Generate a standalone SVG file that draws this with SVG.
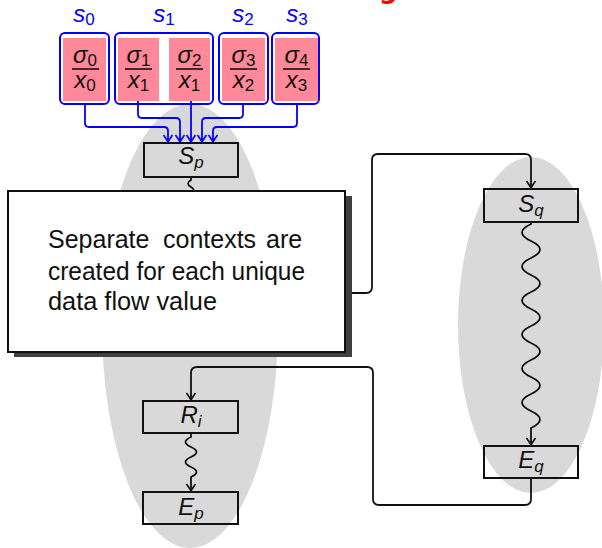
<svg xmlns="http://www.w3.org/2000/svg" width="602" height="548" viewBox="0 0 602 548">
<style>
.blob{fill:#d9d9d9}
.grp{fill:none;stroke:#0000ff;stroke-width:2}
.pink{fill:#ff8899}
.lbl{font-family:"Liberation Sans","DejaVu Sans",sans-serif;font-style:italic;fill:#0000ff;font-size:24px}
.math{font-family:"Liberation Sans","DejaVu Sans",sans-serif;font-style:italic;fill:#111;font-size:24px}
.sub{font-style:normal;font-size:17px}
.isub{font-size:17px}
.frac{stroke:#111;stroke-width:1.6}
.box{fill:none;stroke:#111;stroke-width:2}
.conn{fill:none;stroke:#111;stroke-width:1.8}
.bconn{fill:none;stroke:#0000ff;stroke-width:1.8}
.body{font-family:"Liberation Sans","DejaVu Sans",sans-serif;font-size:25px;fill:#111}
</style>
<defs>
<marker id="ah" viewBox="-9 -6 10 12" markerWidth="10" markerHeight="12" refX="0" refY="0" orient="auto" markerUnits="userSpaceOnUse">
<path d="M-7,-4.5 Q-2,-1 0,0 Q-2,1 -7,4.5" fill="none" stroke="#111" stroke-width="1.6"/>
</marker>
<marker id="bh" viewBox="-9 -6 10 12" markerWidth="10" markerHeight="12" refX="0" refY="0" orient="auto" markerUnits="userSpaceOnUse">
<path d="M-7,-4.5 Q-2,-1 0,0 Q-2,1 -7,4.5" fill="none" stroke="#0000ff" stroke-width="1.6"/>
</marker>
</defs>
<rect width="602" height="548" fill="#fff"/>
<text x="379" y="-2" font-family="DejaVu Sans,sans-serif" font-weight="bold" font-size="26" fill="#ff0000">g</text>
<g id="regions">
<ellipse class="blob" cx="190" cy="326" rx="88" ry="222"/>
<ellipse class="blob" cx="531" cy="325" rx="73" ry="168"/>
</g>
<g id="s0">
<text class="lbl" x="84" y="22" text-anchor="middle">s<tspan class="sub" dy="3">0</tspan></text>
<rect class="grp" x="60" y="33" width="49" height="71" rx="5"/>
<rect class="pink" x="63" y="38" width="43" height="63"/>
<text class="math" x="85" y="63" text-anchor="middle">σ<tspan class="sub" dy="3">0</tspan></text>
<line class="frac" x1="72" y1="69" x2="99" y2="69"/>
<text class="math" x="85" y="88" text-anchor="middle">x<tspan class="sub" dy="3">0</tspan></text>
</g>
<g id="s1">
<text class="lbl" x="164" y="22" text-anchor="middle">s<tspan class="sub" dy="3">1</tspan></text>
<rect class="grp" x="115" y="33" width="98" height="71" rx="5"/>
<rect class="pink" x="118" y="38" width="41" height="63"/>
<rect class="pink" x="169" y="38" width="41" height="63"/>
<text class="math" x="138.5" y="63" text-anchor="middle">σ<tspan class="sub" dy="3">1</tspan></text>
<line class="frac" x1="125" y1="69" x2="152" y2="69"/>
<text class="math" x="138.5" y="88" text-anchor="middle">x<tspan class="sub" dy="3">1</tspan></text>
<text class="math" x="189.5" y="63" text-anchor="middle">σ<tspan class="sub" dy="3">2</tspan></text>
<line class="frac" x1="176" y1="69" x2="203" y2="69"/>
<text class="math" x="189.5" y="88" text-anchor="middle">x<tspan class="sub" dy="3">1</tspan></text>
</g>
<g id="s2">
<text class="lbl" x="243" y="22" text-anchor="middle">s<tspan class="sub" dy="3">2</tspan></text>
<rect class="grp" x="219" y="33" width="49" height="71" rx="5"/>
<rect class="pink" x="222" y="38" width="43" height="63"/>
<text class="math" x="243.5" y="63" text-anchor="middle">σ<tspan class="sub" dy="3">3</tspan></text>
<line class="frac" x1="230" y1="69" x2="257" y2="69"/>
<text class="math" x="243.5" y="88" text-anchor="middle">x<tspan class="sub" dy="3">2</tspan></text>
</g>
<g id="s3">
<text class="lbl" x="297" y="22" text-anchor="middle">s<tspan class="sub" dy="3">3</tspan></text>
<rect class="grp" x="272" y="33" width="47" height="71" rx="5"/>
<rect class="pink" x="275" y="38" width="43" height="63"/>
<text class="math" x="296.5" y="63" text-anchor="middle">σ<tspan class="sub" dy="3">4</tspan></text>
<line class="frac" x1="283" y1="69" x2="310" y2="69"/>
<text class="math" x="296.5" y="88" text-anchor="middle">x<tspan class="sub" dy="3">3</tspan></text>
</g>
<g id="Sp">
<rect class="box" x="144" y="143" width="94" height="34"/>
<text class="math" x="191" y="164" text-anchor="middle">S<tspan class="isub" dy="4">p</tspan></text>
</g>
<g id="Sq">
<rect class="box" x="484" y="189" width="94" height="33"/>
<text class="math" x="531" y="212" text-anchor="middle">S<tspan class="isub" dy="4">q</tspan></text>
</g>
<g id="Eq">
<rect class="box" x="484" y="446" width="94" height="32"/>
<text class="math" x="531" y="468" text-anchor="middle">E<tspan class="isub" dy="4">q</tspan></text>
</g>
<g id="Ri">
<rect class="box" x="143" y="401" width="95" height="32"/>
<text class="math" x="191" y="423" text-anchor="middle">R<tspan class="isub" dy="4">i</tspan></text>
</g>
<g id="Ep">
<rect class="box" x="143" y="492" width="95" height="32"/>
<text class="math" x="191" y="515" text-anchor="middle">E<tspan class="isub" dy="4">p</tspan></text>
</g>
<g id="connectors">
<path class="bconn" marker-end="url(#bh)" d="M85,104 V123 Q85,127 89,127 H164 Q168,127 168,131 V142"/>
<path class="bconn" marker-end="url(#bh)" d="M138,101 V114 Q138,118 142,118 H176 Q180,118 180,122 V142"/>
<path class="bconn" marker-end="url(#bh)" d="M191,101 V142"/>
<path class="bconn" marker-end="url(#bh)" d="M243,104 V114 Q243,118 239,118 H206 Q202,118 202,122 V142"/>
<path class="bconn" marker-end="url(#bh)" d="M297,104 V123 Q297,127 293,127 H217 Q213,127 213,131 V142"/>
<path class="conn" d="M191,177 V180 Q185,183.5 191,187 T191,194"/>
<path class="conn" marker-end="url(#ah)" d="M340,293 H366 Q372,293 372,287 V160 Q372,154 378,154 H525 Q531,154 531,160 V188"/>
<path class="conn" marker-end="url(#ah)" d="M531,222 V224 Q513,232.5 531,241 T531,258 T531,275 T531,292 T531,309 T531,326 T531,343 T531,360 T531,377 T531,394 T531,411 T531,428 V445"/>
<path class="conn" marker-end="url(#ah)" d="M531,478 V499 Q531,505 525,505 H379 Q373,505 373,499 V373 Q373,367 367,367 H197 Q191,367 191,373 V400"/>
<path class="conn" marker-end="url(#ah)" d="M191,433 V437 Q180,442 191,447 T191,457 T191,467 T191,477 V491"/>
</g>
<g id="callout">
<rect x="14" y="196" width="338" height="161" fill="#404040"/>
<rect x="8" y="191" width="337" height="161" fill="#fff" stroke="#111" stroke-width="2"/>
<text class="body"><tspan x="48" y="248">Separate </tspan><tspan x="163">contexts </tspan><tspan x="266">are</tspan><tspan x="48" y="280" textLength="257" lengthAdjust="spacingAndGlyphs">created for each unique</tspan><tspan x="48" y="310" textLength="169" lengthAdjust="spacingAndGlyphs">data flow value</tspan></text>
</g>
</svg>
